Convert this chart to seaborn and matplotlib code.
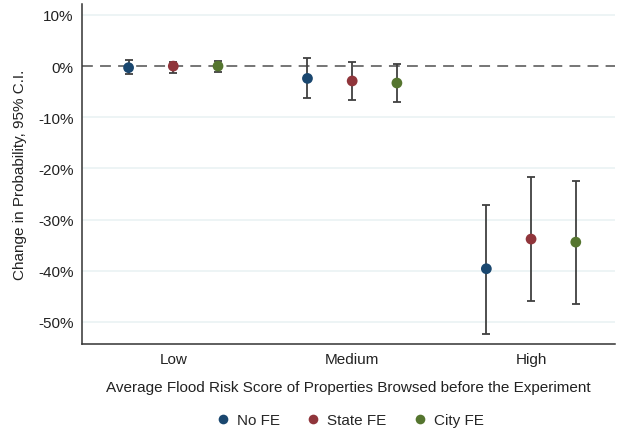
import numpy as np
import pandas as pd
import matplotlib
matplotlib.use("Agg")
import matplotlib.pyplot as plt
import seaborn as sns

categories = ["Low", "Medium", "High"]
series = ["No FE", "State FE", "City FE"]
estimates = {
    "No FE":    [-0.3, -2.4, -39.6],
    "State FE": [0.0, -2.9, -33.8],
    "City FE":  [0.0, -3.3, -34.4],
}
ci_low = {
    "No FE":    [-1.5, -6.3, -52.3],
    "State FE": [-1.3, -6.6, -46.0],
    "City FE":  [-1.2, -7.0, -46.5],
}
ci_high = {
    "No FE":    [1.2, 1.5, -27.1],
    "State FE": [0.9, 0.9, -21.7],
    "City FE":  [1.0, 0.5, -22.4],
}
yticks = [10, 0, -10, -20, -30, -40, -50]
colors = ["#1a476f", "#90353b", "#55752f"]
offsets = [-0.25, 0.0, 0.25]

rows = []
for s, off in zip(series, offsets):
    for i, c in enumerate(categories):
        rows.append({"series": s, "category": c, "pos": i + off,
                     "est": estimates[s][i], "lo": ci_low[s][i], "hi": ci_high[s][i]})
df = pd.DataFrame(rows)

sns.set_theme(style="white")
plt.rcParams["font.family"] = ["Liberation Sans", "DejaVu Sans"]

fig = plt.figure(figsize=(6.17, 4.35), dpi=100)
ax = fig.add_axes([0.133, 0.207, 0.864, 0.781])

for y in yticks:
    if y != 0:
        ax.axhline(y, color="#eaf2f3", lw=1.2, zorder=0)
ax.axhline(0, color="#6a6a6a", lw=1.3, ls=(0, (6, 4)), zorder=1)

ax.errorbar(df["pos"], df["est"],
            yerr=[df["est"] - df["lo"], df["hi"] - df["est"]],
            fmt="none", ecolor="#404040", elinewidth=1.3, capsize=3, capthick=1.3, zorder=2)

sns.scatterplot(data=df, x="pos", y="est", hue="series", hue_order=series,
                palette=colors, s=60, edgecolor="none", ax=ax, zorder=3)

ax.set_xlim(-0.51, 2.47)
ax.set_ylim(-54.3, 12.1)
ax.set_xticks(range(len(categories)))
ax.set_xticklabels(categories)
ax.set_yticks(yticks)
ax.set_yticklabels([f"{t}%" for t in yticks])
ax.tick_params(axis="both", which="both", direction="out", length=3, width=1,
               color="#333333", labelsize=11, labelcolor="#222222", pad=3)
ax.tick_params(axis="x", pad=3)
for side in ["top", "right"]:
    ax.spines[side].set_visible(False)
for side in ["left", "bottom"]:
    ax.spines[side].set_color("#333333")
    ax.spines[side].set_linewidth(1.1)

ax.set_xlabel("Average Flood Risk Score of Properties Browsed before the Experiment",
              fontsize=11, color="#222222", labelpad=10)
ax.set_ylabel("Change in Probability, 95% C.I.", fontsize=11, color="#222222", labelpad=8)

handles, labels = ax.get_legend_handles_labels()
ax.legend(handles, labels, loc="center", bbox_to_anchor=(0.5, -0.225), ncol=3,
          frameon=False, fontsize=11, handletextpad=0.3, columnspacing=1.6,
          handlelength=1.2, markerscale=0.9)

fig.savefig("out.png", dpi=100)
